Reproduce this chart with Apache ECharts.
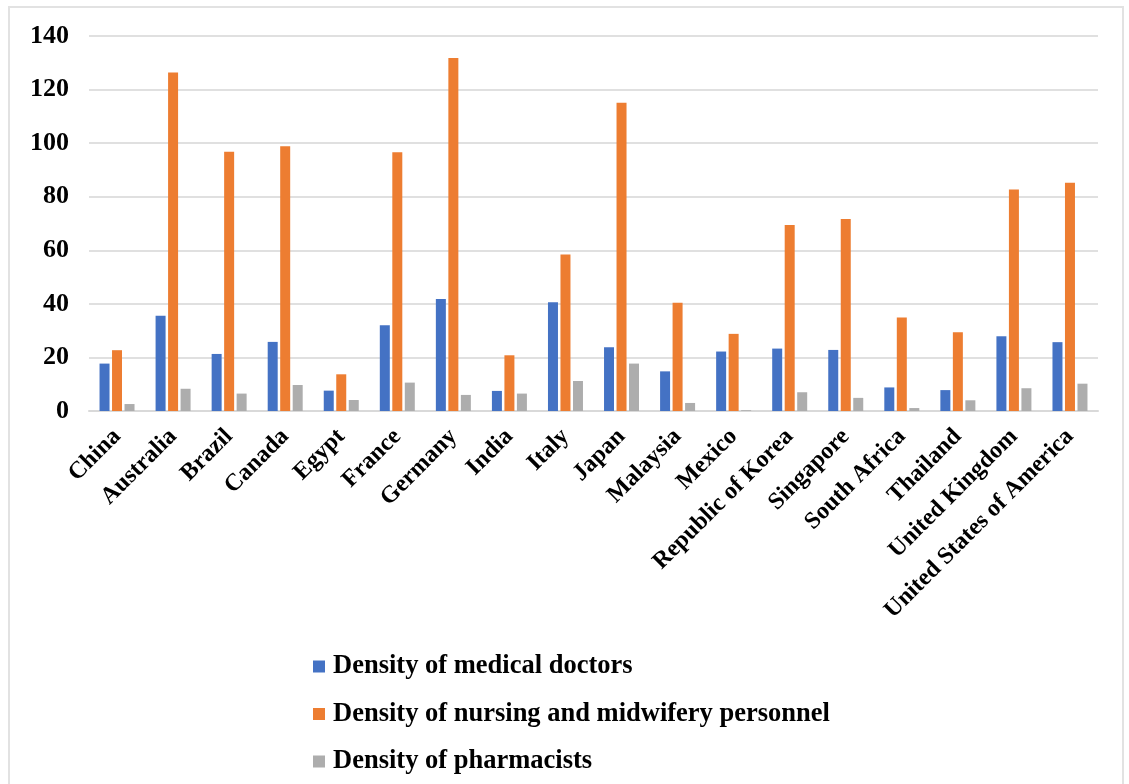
<!DOCTYPE html>
<html>
<head>
<meta charset="utf-8">
<script src="https://cdn.jsdelivr.net/npm/echarts@6/dist/echarts.min.js"></script>
<style>
  html, body { margin: 0; padding: 0; background: #fff; }
  #frame { position: absolute; left: 8px; top: 6px; width: 1116px; height: 800px; border: 2px solid #e2e2e2; box-sizing: border-box; }
  #chart { position: absolute; left: 0; top: 0; width: 1129px; height: 784px; }
</style>
</head>
<body>
<div id="frame"></div>
<div id="chart"></div>
<script>
// Health workforce density per 10,000 population
const countries = ['China', 'Australia', 'Brazil', 'Canada', 'Egypt', 'France', 'Germany', 'India', 'Italy',
  'Japan', 'Malaysia', 'Mexico', 'Republic of Korea', 'Singapore', 'South Africa', 'Thailand',
  'United Kingdom', 'United States of America'];
const doctors =    [17.7, 35.6, 21.3, 25.8, 7.6, 32.0, 41.8, 7.5, 40.6, 23.8, 14.8, 22.2, 23.3, 22.8, 8.8, 7.8, 27.9, 25.7];
const nurses =     [22.7, 126.4, 96.8, 98.8, 13.7, 96.6, 131.8, 20.8, 58.4, 115.1, 40.4, 28.8, 69.4, 71.7, 34.9, 29.4, 82.7, 85.2];
const pharmacists = [2.6, 8.3, 6.5, 9.7, 4.1, 10.6, 6.0, 6.5, 11.2, 17.7, 3.0, 0.3, 7.0, 4.9, 1.1, 4.0, 8.5, 10.2];
const seriesNames = ['Density of medical doctors', 'Density of nursing and midwifery personnel', 'Density of pharmacists'];
const colors = ['#4472C4', '#ED7D31', '#ADADAD'];

const serif = '"Liberation Serif", "Times New Roman", serif';
const chart = echarts.init(document.getElementById('chart'));

function bar(name, data, color) {
  return {
    name: name,
    type: 'bar',
    data: data,
    barWidth: 10,
    barGap: '25%',
    itemStyle: { color: color },
    emphasis: { disabled: true }
  };
}

chart.setOption({
  animation: false,
  grid: { left: 89, right: 31, top: 36, bottom: 373, containLabel: false },
  legend: {
    orient: 'vertical',
    left: 308,
    top: 648,
    itemWidth: 12,
    itemHeight: 12,
    itemGap: 20.5,
    icon: 'rect',
    textStyle: { fontFamily: serif, fontWeight: 'bold', fontSize: 26.5, color: '#000', lineHeight: 26, padding: [0, 0, 0, 3] },
    data: seriesNames
  },
  xAxis: {
    type: 'category',
    data: countries,
    axisLine: { lineStyle: { color: '#d9d9d9', width: 2 } },
    axisTick: { show: false },
    axisLabel: {
      interval: 0,
      rotate: 45,
      margin: 22,
      fontFamily: serif,
      fontWeight: 'bold',
      fontSize: 24,
      color: '#000'
    }
  },
  yAxis: {
    type: 'value',
    min: 0,
    max: 140,
    interval: 20,
    axisLine: { show: false },
    axisTick: { show: false },
    splitLine: { lineStyle: { color: '#e0e0e0', width: 2 } },
    axisLabel: {
      margin: 20,
      fontFamily: serif,
      fontWeight: 'bold',
      fontSize: 26,
      color: '#000'
    }
  },
  series: [
    bar(seriesNames[0], doctors, colors[0]),
    bar(seriesNames[1], nurses, colors[1]),
    bar(seriesNames[2], pharmacists, colors[2])
  ]
});
</script>
</body>
</html>
